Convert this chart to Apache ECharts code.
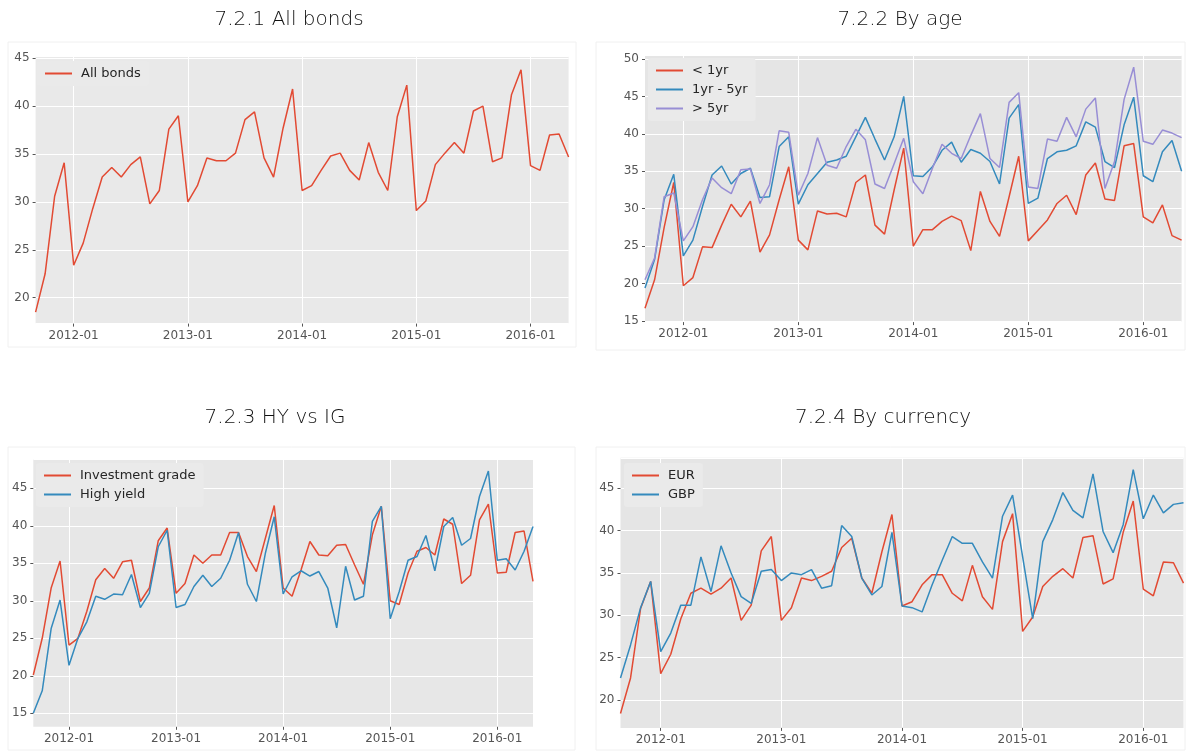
<!DOCTYPE html>
<html>
<head>
<meta charset="utf-8">
<script src="https://cdn.jsdelivr.net/npm/echarts@6/dist/echarts.min.js"></script>
<style>
  html, body { margin: 0; padding: 0; background: #ffffff; }
  #chart { width: 1186px; height: 751px; }
</style>
</head>
<body>
<div id="chart"></div>
<script>
// Monthly observations, Sep 2011 – May 2016
const months = [
  '2011-09', '2011-10', '2011-11', '2011-12',
  '2012-01', '2012-02', '2012-03', '2012-04', '2012-05', '2012-06', '2012-07', '2012-08', '2012-09', '2012-10', '2012-11', '2012-12',
  '2013-01', '2013-02', '2013-03', '2013-04', '2013-05', '2013-06', '2013-07', '2013-08', '2013-09', '2013-10', '2013-11', '2013-12',
  '2014-01', '2014-02', '2014-03', '2014-04', '2014-05', '2014-06', '2014-07', '2014-08', '2014-09', '2014-10', '2014-11', '2014-12',
  '2015-01', '2015-02', '2015-03', '2015-04', '2015-05', '2015-06', '2015-07', '2015-08', '2015-09', '2015-10', '2015-11', '2015-12',
  '2016-01', '2016-02', '2016-03', '2016-04', '2016-05'
];

// 7.2.1 All bonds
const allBonds = [
  18.5, 22.5, 30.6, 34.1, 23.4, 25.7, 29.3, 32.6, 33.6, 32.6,
  33.9, 34.7, 29.8, 31.2, 37.6, 39.0, 30.0, 31.7, 34.6, 34.3,
  34.3, 35.1, 38.6, 39.4, 34.6, 32.6, 37.7, 41.8, 31.2, 31.7,
  33.3, 34.8, 35.1, 33.3, 32.3, 36.2, 33.1, 31.2, 38.9, 42.2,
  29.1, 30.1, 33.9, 35.1, 36.2, 35.1, 39.5, 40.0, 34.2, 34.6,
  41.2, 43.8, 33.8, 33.3, 37.0, 37.1, 34.7
];

// 7.2.2 By age
const ageUnder1 = [
  16.7, 20.5, 27.5, 33.5, 19.7, 20.8, 24.9, 24.8, 27.8, 30.6,
  28.9, 31.0, 24.2, 26.5, 31.2, 35.6, 25.8, 24.5, 29.7, 29.3,
  29.4, 28.9, 33.5, 34.5, 27.8, 26.6, 32.5, 38.1, 25.0, 27.2,
  27.2, 28.3, 29.0, 28.4, 24.4, 32.3, 28.3, 26.3, 31.6, 37.0,
  25.7, 27.1, 28.5, 30.7, 31.8, 29.2, 34.5, 36.1, 31.3, 31.1,
  38.4, 38.7, 28.9, 28.1, 30.5, 26.4, 25.8
];
const age1to5 = [
  19.4, 23.2, 31.2, 34.6, 23.7, 25.8, 30.3, 34.5, 35.7, 33.3,
  34.7, 35.4, 31.5, 31.6, 38.3, 39.6, 30.6, 33.2, 34.7, 36.2,
  36.5, 37.0, 39.6, 42.2, 39.3, 36.5, 39.6, 45.0, 34.4, 34.3,
  35.6, 37.8, 38.9, 36.2, 37.9, 37.4, 36.3, 33.3, 42.1, 43.9,
  30.7, 31.4, 36.7, 37.6, 37.8, 38.4, 41.6, 40.9, 36.3, 35.5,
  41.2, 44.9, 34.4, 33.6, 37.6, 39.1, 35.0
];
const ageOver5 = [
  20.5, 23.4, 31.6, 32.1, 25.7, 27.6, 31.2, 34.1, 32.8, 32.0,
  35.2, 35.3, 30.7, 33.2, 40.4, 40.2, 31.8, 34.7, 39.5, 35.8,
  35.4, 38.3, 40.6, 39.2, 33.3, 32.7, 36.0, 39.4, 33.6, 32.0,
  35.4, 38.6, 37.4, 36.7, 39.8, 42.7, 36.7, 35.5, 44.2, 45.5,
  32.9, 32.7, 39.3, 39.0, 42.2, 39.6, 43.3, 44.8, 32.7, 36.3,
  44.6, 48.9, 39.0, 38.6, 40.5, 40.1, 39.5
];

// 7.2.3 HY vs IG
const investmentGrade = [
  20.1, 25.0, 31.7, 35.3, 24.1, 25.0, 28.6, 32.8, 34.3, 33.0,
  35.2, 35.4, 29.9, 31.7, 38.0, 39.7, 31.0, 32.3, 36.1, 35.0,
  36.1, 36.1, 39.1, 39.1, 35.9, 33.9, 38.3, 42.7, 31.7, 30.6,
  34.1, 37.9, 36.1, 36.0, 37.4, 37.5, 34.8, 32.2, 38.8, 42.6,
  30.0, 29.5, 33.7, 36.6, 37.1, 36.1, 40.9, 40.2, 32.3, 33.4,
  40.8, 42.9, 33.7, 33.8, 39.1, 39.3, 32.6
];
const highYield = [
  15.0, 18.0, 26.3, 30.1, 21.4, 25.0, 27.2, 30.6, 30.2, 30.9,
  30.8, 33.5, 29.1, 31.0, 37.2, 39.4, 29.1, 29.5, 31.9, 33.4,
  31.9, 33.0, 35.4, 39.1, 32.2, 29.9, 36.3, 41.2, 30.9, 33.2,
  34.0, 33.3, 33.9, 31.7, 26.4, 34.6, 30.1, 30.6, 40.6, 42.6,
  27.6, 31.2, 35.4, 35.9, 38.7, 34.0, 39.9, 41.1, 37.4, 38.3,
  43.9, 47.3, 35.4, 35.6, 34.1, 36.6, 39.9
];

// 7.2.4 By currency
const eur = [
  18.4, 22.6, 30.8, 34.0, 23.1, 25.4, 29.6, 32.6, 33.2, 32.5,
  33.2, 34.4, 29.4, 31.2, 37.6, 39.3, 29.4, 30.9, 34.4, 34.1,
  34.6, 35.2, 38.0, 39.1, 34.4, 32.6, 37.5, 41.9, 31.1, 31.6,
  33.6, 34.8, 34.8, 32.6, 31.7, 35.9, 32.2, 30.7, 38.7, 42.0,
  28.1, 29.8, 33.4, 34.6, 35.5, 34.4, 39.2, 39.4, 33.7, 34.3,
  39.8, 43.5, 33.1, 32.3, 36.3, 36.2, 33.8
];
const gbp = [
  22.6, 26.5, 30.9, 34.0, 25.7, 27.9, 31.2, 31.2, 36.9, 32.8,
  38.2, 35.0, 32.2, 31.4, 35.2, 35.4, 34.1, 35.0, 34.8, 35.4,
  33.2, 33.5, 40.6, 39.3, 34.4, 32.4, 33.4, 39.8, 31.1, 30.9,
  30.4, 33.6, 36.5, 39.3, 38.5, 38.5, 36.3, 34.4, 41.7, 44.2,
  36.9, 29.6, 38.7, 41.3, 44.5, 42.4, 41.5, 46.7, 39.9, 37.4,
  40.7, 47.2, 41.4, 44.2, 42.1, 43.1, 43.3
];

const RED = '#E24A33', BLUE = '#348ABD', PURPLE = '#988ED5';
const TICK = '#555555';
const isYearStart = (idx, val) => String(val).slice(5) === '01';

// Four small-multiple panels: title, plot area, y range, legend spot, series
const panels = [
  { title: '7.2.1 All bonds', tx: 289, ty: 20,
    frame: [8, 42, 568, 305], bg: '#E9E9E9',
    grid: { left: 35.6, top: 56.4, width: 533, height: 267.2 }, ymin: 17.3, ymax: 45.2, split: 5,
    legend: { left: 37, top: 61 },
    series: [{ name: 'All bonds', data: allBonds, color: RED }] },
  { title: '7.2.2 By age', tx: 900, ty: 20,
    frame: [596, 42, 589, 308], bg: '#E5E5E5',
    grid: { left: 645, top: 55.6, width: 536.6, height: 266.5 }, ymin: 14.85, ymax: 50.45, split: 7,
    legend: { left: 648, top: 58 },
    series: [
      { name: '< 1yr', data: ageUnder1, color: RED },
      { name: '1yr - 5yr', data: age1to5, color: BLUE },
      { name: '> 5yr', data: ageOver5, color: PURPLE }
    ] },
  { title: '7.2.3 HY vs IG', tx: 275, ty: 418,
    frame: [8, 447, 567, 303], bg: '#E7E7E7',
    grid: { left: 33.3, top: 459, width: 499.7, height: 267.8 }, ymin: 13.2, ymax: 48.9, split: 7,
    legend: { left: 36, top: 463 },
    series: [
      { name: 'Investment grade', data: investmentGrade, color: RED },
      { name: 'High yield', data: highYield, color: BLUE }
    ] },
  { title: '7.2.4 By currency', tx: 883, ty: 418,
    frame: [596, 447, 589, 303], bg: '#E5E5E5',
    grid: { left: 620.5, top: 457.8, width: 563, height: 270.1 }, ymin: 16.7, ymax: 48.6, split: 6,
    legend: { left: 624, top: 463 },
    series: [
      { name: 'EUR', data: eur, color: RED },
      { name: 'GBP', data: gbp, color: BLUE }
    ] }
];

const option = {
  animation: false,
  backgroundColor: '#ffffff',
  textStyle: { fontFamily: 'DejaVu Sans' },
  grid: [], xAxis: [], yAxis: [], legend: [], series: [], graphic: []
};

panels.forEach((p, g) => {
  // faint frame around each panel
  option.graphic.push({
    type: 'rect', silent: true, z: -10,
    shape: { x: p.frame[0], y: p.frame[1], width: p.frame[2], height: p.frame[3] },
    style: { fill: '#ffffff', stroke: '#F0F0F0', lineWidth: 1 }
  });
  // panel heading in a light weight
  option.graphic.push({
    type: 'text', silent: true, x: p.tx, y: p.ty,
    style: { text: p.title, fill: '#111111', font: '300 20px "DejaVu Sans", sans-serif',
             textAlign: 'center', textVerticalAlign: 'middle' }
  });

  option.grid.push(Object.assign({
    show: true, backgroundColor: p.bg, borderWidth: 0, containLabel: false
  }, p.grid));

  option.xAxis.push({
    type: 'category', gridIndex: g, data: months, boundaryGap: false,
    axisLine: { show: false },
    axisTick: { show: true, length: 3, interval: isYearStart, lineStyle: { color: TICK } },
    axisLabel: { interval: isYearStart, color: TICK, fontSize: 12, margin: 6, fontFamily: 'DejaVu Sans' },
    splitLine: { show: true, interval: isYearStart, lineStyle: { color: '#ffffff', width: 1 } }
  });

  option.yAxis.push({
    type: 'value', gridIndex: g, min: p.ymin, max: p.ymax, splitNumber: p.split,
    axisLine: { show: false },
    axisTick: { show: true, length: 3, lineStyle: { color: TICK } },
    axisLabel: { showMinLabel: false, showMaxLabel: false, color: TICK, fontSize: 12, margin: 6,
                 fontFamily: 'DejaVu Sans',
                 formatter: v => (Math.abs(v % 5) < 1e-9 ? String(v) : '') },
    splitLine: { show: true, lineStyle: { color: '#ffffff', width: 1 } }
  });

  option.legend.push({
    data: p.series.map(s => s.name),
    orient: 'vertical', left: p.legend.left, top: p.legend.top,
    icon: 'rect', itemWidth: 27, itemHeight: 2, itemGap: 6,
    padding: [6, 8, 6, 8], backgroundColor: '#EAEAEA', borderRadius: 3,
    selectedMode: false,
    textStyle: { color: '#262626', fontSize: 13, fontFamily: 'DejaVu Sans', padding: [0, 0, 0, 4] }
  });

  p.series.forEach(s => {
    option.series.push({
      type: 'line', name: s.name, xAxisIndex: g, yAxisIndex: g,
      data: s.data, color: s.color, showSymbol: false, symbol: 'none',
      lineStyle: { width: 1.5, color: s.color }, itemStyle: { color: s.color }
    });
  });
});

const chart = echarts.init(document.getElementById('chart'), null, { renderer: 'canvas' });
chart.setOption(option);
</script>
</body>
</html>
